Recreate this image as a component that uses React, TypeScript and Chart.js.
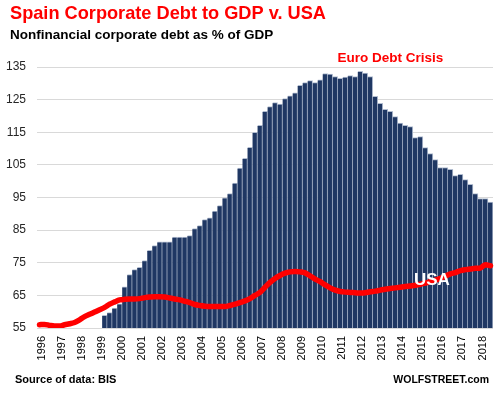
import React, { useEffect, useRef } from 'react';
import { Chart, registerables } from 'chart.js';

Chart.register(...registerables);

// ---- Data ----
const years = [1996, 1997, 1998, 1999, 2000, 2001, 2002, 2003, 2004, 2005, 2006, 2007, 2008, 2009, 2010, 2011, 2012, 2013, 2014, 2015, 2016, 2017, 2018];
const quarters = ['Q1', 'Q2', 'Q3', 'Q4'];
const lastQuarter = '2018 Q3';
const categories = years.flatMap((yr) => quarters.map((q) => `${yr} ${q}`));
const quarterLabels = categories.slice(0, categories.indexOf(lastQuarter) + 1);

// USA nonfinancial corporate debt, % of GDP (1996 Q1 - 2018 Q3)
const usaDebt = [
  56.0, 56.1, 55.8, 55.6,
  55.6, 56.0, 56.3, 56.7,
  57.5, 58.5, 59.2, 59.9,
  60.6, 61.3, 62.3, 63.0,
  63.6, 63.8, 63.9, 63.9,
  64.0, 64.3, 64.5, 64.6,
  64.6, 64.5, 64.2, 63.9,
  63.6, 63.2, 62.8, 62.2,
  61.9, 61.7, 61.6, 61.6,
  61.6, 61.6, 61.9, 62.3,
  62.8, 63.3, 64.0, 65.0,
  65.9, 67.5, 69.0, 70.2,
  71.1, 71.8, 72.2, 72.3,
  72.2, 71.9, 71.0, 70.0,
  69.2, 68.2, 67.3, 66.6,
  66.2, 66.0, 65.9, 65.8,
  65.7, 65.8, 66.1, 66.3,
  66.6, 66.9, 67.1, 67.3,
  67.5, 67.7, 67.9, 68.1,
  68.4, 68.8, 69.2, 69.7,
  70.2, 70.9, 71.6, 72.0,
  72.6, 72.9, 73.1, 73.3,
  73.4, 74.4, 74.1,
];

// Spain nonfinancial corporate debt, % of GDP (1999 Q2 - 2018 Q3)
const spainFirstQuarter = '1999 Q2';
const spainDebt = [
  58.9, 59.7, 61.1,
  62.4, 67.6, 71.4, 72.9,
  73.6, 75.7, 78.8, 80.3,
  81.4, 81.4, 81.4, 82.9,
  82.9, 82.9, 83.3, 85.5,
  86.4, 88.2, 88.8, 90.8,
  92.5, 94.9, 96.2, 99.4,
  104.0, 107.0, 110.4, 115.0,
  117.1, 121.4, 122.9, 124.1,
  123.6, 125.3, 126.2, 127.1,
  129.4, 130.2, 130.8, 130.2,
  131.1, 133.0, 132.8, 132.1,
  131.5, 131.9, 132.4, 132.1,
  133.7, 133.1, 132.1, 126.0,
  123.9, 122.0, 121.4, 119.8,
  117.8, 117.1, 116.7, 113.4,
  113.7, 110.3, 108.5, 106.6,
  104.2, 104.2, 103.6, 101.7,
  102.1, 100.5, 99.0, 96.2,
  94.7, 94.7, 93.6,
];

const yTicks = [55, 65, 75, 85, 95, 105, 115, 125, 135];

const titleText = 'Spain Corporate Debt to GDP v. USA';
const subtitleText = 'Nonfinancial corporate debt as % of GDP';
const crisisText = 'Euro Debt Crisis';
const crisisQuarter = '2013 Q3';
const usaText = 'USA';
const usaLabelQuarter = '2015 Q3';
const usaLabelLevel = 69.6;
const sourceText = 'Source of data: BIS';
const brandText = 'WOLFSTREET.com';

const FONT = '"Liberation Sans", Arial, sans-serif';

const spainSeries = quarterLabels.map((q) => {
  const i = quarterLabels.indexOf(q) - quarterLabels.indexOf(spainFirstQuarter);
  return i >= 0 && i < spainDebt.length ? spainDebt[i] : null;
});

const textPlugin = {
  id: 'wolfTexts',
  afterDatasetsDraw(chart: any) {
    const { ctx, scales } = chart;
    const x = scales.x;
    const y = scales.y;
    ctx.save();
    ctx.fillStyle = '#FFFFFF';
    ctx.font = `bold 17px ${FONT}`;
    ctx.textAlign = 'center';
    ctx.textBaseline = 'middle';
    ctx.fillText(usaText, x.getPixelForValue(quarterLabels.indexOf(usaLabelQuarter)) + 1.5, y.getPixelForValue(usaLabelLevel));
    ctx.restore();
  },
  afterDraw(chart: any) {
    const { ctx, chartArea, scales } = chart;
    const x = scales.x;
    ctx.save();
    ctx.textBaseline = 'alphabetic';
    ctx.textAlign = 'left';
    ctx.fillStyle = '#FF0000';
    ctx.font = `bold 18.2px ${FONT}`;
    ctx.fillText(titleText, 10, 19);
    ctx.fillStyle = '#000000';
    ctx.font = `bold 13.5px ${FONT}`;
    ctx.fillText(subtitleText, 10, 38.5);

    ctx.fillStyle = '#FF0000';
    ctx.font = `bold 13.5px ${FONT}`;
    ctx.textAlign = 'center';
    ctx.fillText(crisisText, x.getPixelForValue(quarterLabels.indexOf(crisisQuarter)), chartArea.top - 5.5);

    ctx.fillStyle = '#000000';
    ctx.font = `bold 11px ${FONT}`;
    ctx.textAlign = 'left';
    ctx.fillText(sourceText, 15, 382.5);
    ctx.font = `bold 10.5px ${FONT}`;
    ctx.textAlign = 'right';
    ctx.fillText(brandText, 489, 382.5);
    ctx.restore();
  },
};

export default function App() {
  const canvasRef = useRef<HTMLCanvasElement | null>(null);

  useEffect(() => {
    document.body.style.margin = '0';
    const canvas = canvasRef.current;
    if (!canvas) return;
    const chart = new Chart(canvas, {
      type: 'bar',
      data: {
        labels: quarterLabels,
        datasets: [
          {
            type: 'line',
            label: 'USA',
            data: usaDebt,
            borderColor: '#FF0000',
            backgroundColor: '#FF0000',
            borderWidth: 5.5,
            pointRadius: 0,
            tension: 0.4,
            cubicInterpolationMode: 'monotone',
            borderCapStyle: 'round',
            borderJoinStyle: 'round',
            order: 0,
          } as any,
          {
            type: 'bar',
            label: 'Spain',
            data: spainSeries,
            backgroundColor: '#1F3763',
            borderColor: '#B2BDD0',
            borderWidth: { top: 1, right: 1, left: 0, bottom: 0 },
            borderSkipped: false,
            barPercentage: 1,
            categoryPercentage: 1,
            order: 1,
          } as any,
        ],
      },
      options: {
        responsive: false,
        animation: false,
        devicePixelRatio: 1,
        layout: { padding: { top: 67, right: 7, left: 0, bottom: 0 } },
        plugins: {
          legend: { display: false },
          title: { display: false },
          tooltip: { enabled: false },
        },
        scales: {
          x: {
            offset: true,
            grid: { display: false, drawTicks: false },
            border: { display: false },
            ticks: {
              autoSkip: false,
              maxRotation: 90,
              minRotation: 90,
              padding: 8,
              labelOffset: 2,
              color: '#000000',
              font: { family: FONT, size: 11 },
              callback: (_v: any, i: number) => (quarterLabels[i].endsWith('Q1') ? quarterLabels[i].slice(0, 4) : ''),
            },
            afterFit: (s: any) => {
              s.height = 70;
              s.paddingLeft = 0;
              s.paddingRight = 0;
            },
          },
          y: {
            min: 55,
            max: 135,
            grid: { color: '#D9D9D9', lineWidth: 1, drawTicks: false },
            border: { display: false },
            ticks: {
              padding: 11,
              color: '#262626',
              font: { family: FONT, size: 12 },
            },
            afterBuildTicks: (s: any) => {
              s.ticks = yTicks.map((v) => ({ value: v }));
            },
            afterFit: (s: any) => {
              s.width = 37;
              s.paddingTop = 0;
              s.paddingBottom = 0;
            },
          },
        },
      },
      plugins: [textPlugin],
    });
    return () => chart.destroy();
  }, []);

  return <canvas ref={canvasRef} width={500} height={398} style={{ display: 'block' }} />;
}
